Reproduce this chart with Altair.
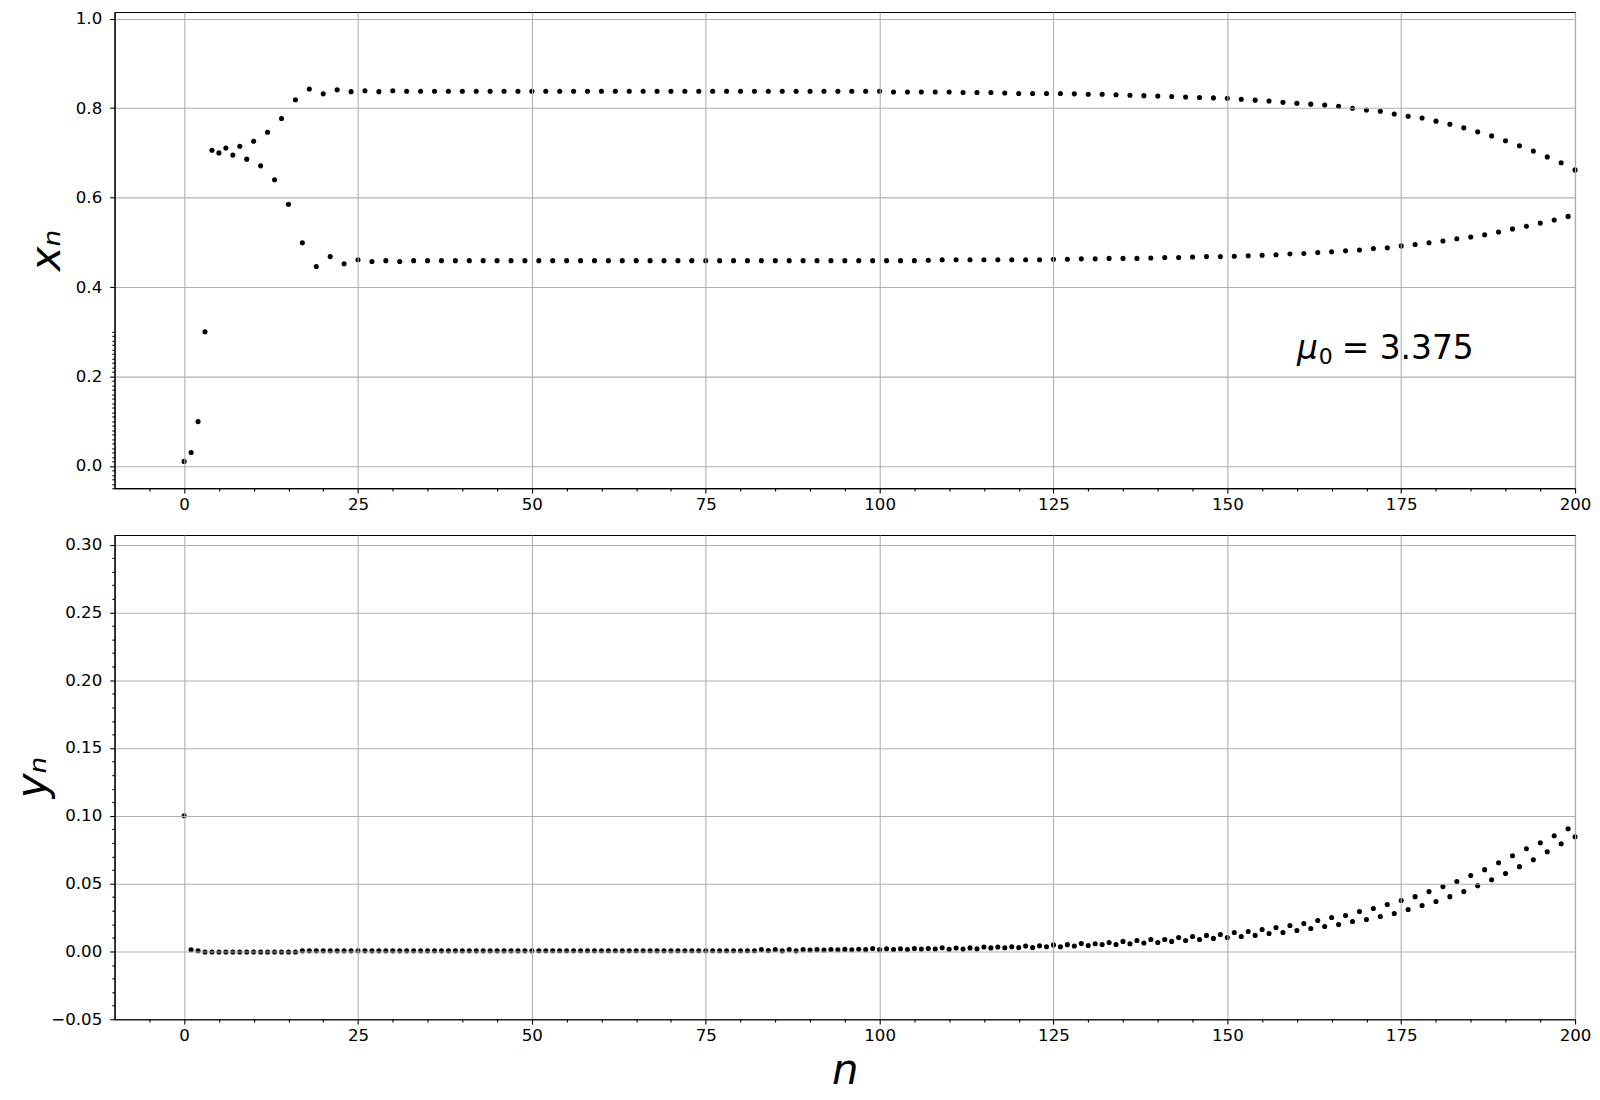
import altair as alt
import pandas as pd

# ---------------- data ----------------
n_vals = list(range(201))

x_vals = [
    0.010, 0.030, 0.099, 0.300, 0.706, 0.700, 0.711, 0.695, 0.715, 0.686,
    0.726, 0.671, 0.746, 0.640, 0.777, 0.585, 0.819, 0.499, 0.843, 0.446,
    0.832, 0.468, 0.841, 0.452, 0.837, 0.461, 0.839, 0.457, 0.837, 0.459,
    0.839, 0.457, 0.838, 0.459, 0.838, 0.459, 0.838, 0.459, 0.838, 0.459,
    0.838, 0.459, 0.838, 0.459, 0.838, 0.459, 0.838, 0.459, 0.838, 0.459,
    0.838, 0.459, 0.838, 0.459, 0.838, 0.459, 0.838, 0.459, 0.838, 0.459,
    0.838, 0.459, 0.838, 0.459, 0.838, 0.459, 0.838, 0.459, 0.838, 0.459,
    0.838, 0.459, 0.838, 0.459, 0.838, 0.459, 0.838, 0.459, 0.838, 0.459,
    0.838, 0.459, 0.838, 0.459, 0.838, 0.459, 0.838, 0.459, 0.838, 0.459,
    0.838, 0.459, 0.838, 0.459, 0.838, 0.459, 0.838, 0.459, 0.838, 0.459,
    0.838, 0.459, 0.836, 0.459, 0.836, 0.459, 0.836, 0.460, 0.836, 0.461,
    0.836, 0.461, 0.835, 0.461, 0.835, 0.461, 0.835, 0.461, 0.834, 0.461,
    0.833, 0.461, 0.833, 0.461, 0.833, 0.462, 0.833, 0.462, 0.832, 0.463,
    0.831, 0.463, 0.831, 0.464, 0.830, 0.464, 0.829, 0.464, 0.828, 0.465,
    0.827, 0.466, 0.826, 0.466, 0.825, 0.467, 0.824, 0.468, 0.823, 0.468,
    0.822, 0.469, 0.820, 0.470, 0.818, 0.471, 0.816, 0.472, 0.813, 0.474,
    0.811, 0.475, 0.809, 0.477, 0.807, 0.479, 0.804, 0.481, 0.800, 0.483,
    0.796, 0.486, 0.793, 0.488, 0.787, 0.492, 0.782, 0.495, 0.778, 0.499,
    0.771, 0.503, 0.764, 0.508, 0.756, 0.512, 0.747, 0.517, 0.738, 0.523,
    0.727, 0.530, 0.716, 0.536, 0.704, 0.543, 0.691, 0.550, 0.678, 0.558,
    0.662,
]

y_vals = [
    0.1000, 0.0012, 0.0005, -0.0004, -0.0004, -0.0004, -0.0004, -0.0004, -0.0004, -0.0004,
    -0.0004, -0.0004, -0.0004, -0.0004, -0.0004, -0.0004, -0.0004, 0.0004, 0.0004, 0.0004,
    0.0004, 0.0004, 0.0004, 0.0004, 0.0004, 0.0004, 0.0004, 0.0004, 0.0004, 0.0004,
    0.0004, 0.0004, 0.0004, 0.0004, 0.0004, 0.0004, 0.0004, 0.0004, 0.0004, 0.0004,
    0.0004, 0.0004, 0.0004, 0.0004, 0.0004, 0.0004, 0.0004, 0.0004, 0.0004, 0.0004,
    0.0004, 0.0005, 0.0005, 0.0005, 0.0005, 0.0005, 0.0005, 0.0005, 0.0005, 0.0005,
    0.0005, 0.0005, 0.0005, 0.0005, 0.0005, 0.0005, 0.0005, 0.0005, 0.0005, 0.0005,
    0.0005, 0.0005, 0.0005, 0.0005, 0.0005, 0.0005, 0.0005, 0.0005, 0.0005, 0.0005,
    0.0005, 0.0005, 0.0005, 0.0013, 0.0006, 0.0013, 0.0004, 0.0013, 0.0004, 0.0013,
    0.0011, 0.0013, 0.0011, 0.0014, 0.0012, 0.0015, 0.0012, 0.0016, 0.0013, 0.0021,
    0.0013, 0.0019, 0.0014, 0.0020, 0.0014, 0.0021, 0.0017, 0.0022, 0.0018, 0.0027,
    0.0016, 0.0025, 0.0017, 0.0026, 0.0019, 0.0032, 0.0026, 0.0033, 0.0027, 0.0034,
    0.0028, 0.0040, 0.0029, 0.0041, 0.0034, 0.0048, 0.0035, 0.0050, 0.0040, 0.0058,
    0.0043, 0.0057, 0.0051, 0.0066, 0.0051, 0.0074, 0.0057, 0.0081, 0.0062, 0.0088,
    0.0066, 0.0088, 0.0074, 0.0103, 0.0081, 0.0110, 0.0088, 0.0118, 0.0096, 0.0125,
    0.0103, 0.0140, 0.0110, 0.0147, 0.0118, 0.0162, 0.0132, 0.0176, 0.0140, 0.0191,
    0.0154, 0.0206, 0.0169, 0.0228, 0.0184, 0.0250, 0.0199, 0.0265, 0.0221, 0.0294,
    0.0235, 0.0316, 0.0257, 0.0346, 0.0279, 0.0375, 0.0309, 0.0404, 0.0338, 0.0441,
    0.0368, 0.0478, 0.0404, 0.0515, 0.0441, 0.0559, 0.0485, 0.0603, 0.0529, 0.0654,
    0.0574, 0.0706, 0.0625, 0.0757, 0.0676, 0.0801, 0.0735, 0.0853, 0.0794, 0.0904,
    0.0846,
]

assert len(x_vals) == 201 and len(y_vals) == 201

# annotation "μ₀ = 3.375" (mathtext-like: italic μ, lowered subscript 0)
annot_n = [160]
annot_x = [0.24]
annot_mu = ["μ"]
annot_sub = ["0"]
annot_rest = ["= 3.375"]

x_ticks = [-5, 0, 5, 10, 15, 20, 25, 30, 35, 40, 45, 50, 55, 60, 65, 70, 75, 80, 85, 90,
           95, 100, 105, 110, 115, 120, 125, 130, 135, 140, 145, 150, 155, 160, 165, 170,
           175, 180, 185, 190, 195, 200]
top_y_ticks = [-0.05, -0.04, -0.03, -0.02, -0.01, 0.0, 0.01, 0.02, 0.03, 0.04, 0.05, 0.06,
               0.07, 0.08, 0.09, 0.1, 0.11, 0.12, 0.13, 0.14, 0.15, 0.16, 0.17, 0.18, 0.19,
               0.2, 0.21, 0.22, 0.23, 0.24, 0.25, 0.26, 0.27, 0.28, 0.29, 0.3,
               0.4, 0.6, 0.8, 1.0]
bot_y_ticks = [-0.05, -0.04, -0.03, -0.02, -0.01, 0.0, 0.01, 0.02, 0.03, 0.04, 0.05, 0.06,
               0.07, 0.08, 0.09, 0.1, 0.11, 0.12, 0.13, 0.14, 0.15, 0.16, 0.17, 0.18, 0.19,
               0.2, 0.21, 0.22, 0.23, 0.24, 0.25, 0.26, 0.27, 0.28, 0.29, 0.3]

df = pd.DataFrame({"n": n_vals, "x": x_vals, "y": y_vals})
df_mu = pd.DataFrame({"n": annot_n, "x": annot_x, "label": annot_mu})
df_sub = pd.DataFrame({"n": annot_n, "x": annot_x, "label": annot_sub})
df_rest = pd.DataFrame({"n": annot_n, "x": annot_x, "label": annot_rest})

FONT = "DejaVu Sans"
MAJOR = 4.9
MINOR = 2.8

x_major_test = "datum.value % 25 === 0"
top_major_test = "abs(datum.value * 5 - round(datum.value * 5)) < 0.001"
bot_major_test = "abs(datum.value * 20 - round(datum.value * 20)) < 0.001"


def common_axis(test, **kw):
    return alt.Axis(
        tickSize={"condition": {"test": test, "value": MAJOR}, "value": MINOR},
        gridOpacity={"condition": {"test": test, "value": 1}, "value": 0},
        labelExpr=f"({test}) ? datum.label : ''",
        labelOverlap=False,
        labelFlush=False,
        zindex=1,
        **kw,
    )


x_scale = alt.Scale(domain=[-10, 200], nice=False, zero=False)
top_y_scale = alt.Scale(domain=[-0.05, 1.015], nice=False, zero=False)

x_axis_top = common_axis(x_major_test, values=x_ticks, format="d", title=None,
                         labelPadding=3.5)
x_axis_bot = common_axis(x_major_test, values=x_ticks, format="d", title="n",
                         titleFontStyle="italic", titleFontSize=42, titlePadding=6,
                         labelPadding=3.5)
y_axis_top = common_axis(top_major_test, values=top_y_ticks, format=".1f",
                         title="xₙ", titleFontStyle="italic", titleFontSize=42,
                         titlePadding=7, labelPadding=8)

DOT = 26

top_points = alt.Chart(df).mark_circle(size=DOT, color="black", opacity=1).encode(
    x=alt.X("n:Q", scale=x_scale, axis=x_axis_top),
    y=alt.Y("x:Q", scale=top_y_scale, axis=y_axis_top),
)


def annot_layer(frame, size, style, dx, dy):
    return alt.Chart(frame).mark_text(
        align="left", baseline="alphabetic", fontSize=size, fontStyle=style,
        font=FONT, color="black", dx=dx, dy=dy,
    ).encode(
        x=alt.X("n:Q", scale=x_scale, axis=x_axis_top),
        y=alt.Y("x:Q", scale=top_y_scale, axis=y_axis_top),
        text="label:N",
    )


annot_a = annot_layer(df_mu, 33, "italic", 0, 0)
annot_b = annot_layer(df_sub, 22, "normal", 22, 5)
annot_c = annot_layer(df_rest, 33, "normal", 45, 0)

top = alt.layer(top_points, annot_a, annot_b, annot_c).properties(width=1466, height=478)

bottom = alt.Chart(df).mark_circle(size=DOT, color="black", opacity=1).encode(
    x=alt.X("n:Q", scale=x_scale, axis=x_axis_bot),
    y=alt.Y("y:Q", scale=alt.Scale(domain=[-0.05, 0.307], nice=False, zero=False),
            axis=common_axis(bot_major_test, values=bot_y_ticks, format=".2f",
                             title="yₙ", titleFontStyle="italic", titleFontSize=42,
                             titlePadding=-3.5, labelPadding=8)),
).properties(width=1466, height=486)

chart = alt.vconcat(top, bottom, spacing=20).properties(
    padding={"left": 2, "top": 0, "right": 0, "bottom": 0}
).configure(
    font=FONT,
).configure_view(
    stroke="black", strokeWidth=1.1
).configure_axis(
    labelFont=FONT, labelFontSize=16.7, labelColor="black",
    titleFont=FONT, titleColor="black", titleFontWeight="normal",
    domainColor="black", domainWidth=1.1,
    tickColor="black", tickWidth=1.1,
    gridColor="#b0b0b0", gridWidth=1.1,
)

chart.save("out.html", embed_options={"renderer": "svg", "actions": False})
